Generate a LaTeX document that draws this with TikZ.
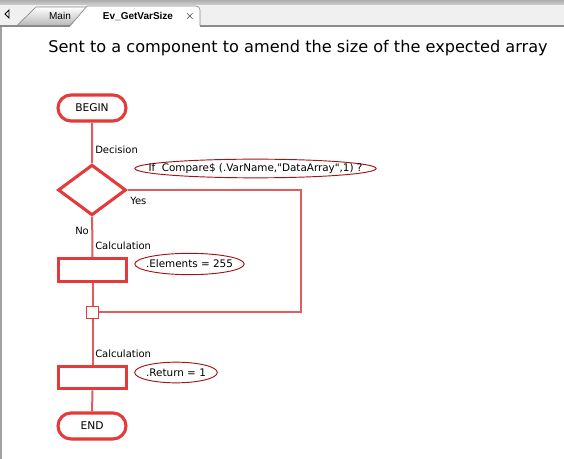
\documentclass[tikz,border=0pt]{standalone}
\usepackage{fontspec}
\setmainfont{DejaVu Sans}
\newfontfamily\uifont{Liberation Sans}
\usetikzlibrary{arrows.meta,positioning,calc,shapes.geometric,shapes.misc}
\definecolor{pen}{HTML}{E43A3A}
\definecolor{wire}{HTML}{E35B5B}
\definecolor{note}{HTML}{A31515}
\definecolor{bar}{HTML}{F0F0F0}
\definecolor{edge}{HTML}{8A8A8A}
\tikzset{
  terminal/.style={draw=pen,line width=2.3pt,rounded rectangle,inner sep=0pt,
    minimum width=51pt,minimum height=19.5pt,font=\fontsize{8}{9}\selectfont},
  calcbox/.style={draw=pen,line width=2.3pt,inner sep=0pt,
    minimum width=51pt,minimum height=17pt},
  decision/.style={draw=pen,line width=2.3pt,diamond,inner sep=0pt,
    minimum width=51pt,minimum height=38pt},
  junction/.style={draw=pen,line width=1.1pt,inner sep=0pt,minimum size=9pt},
  wire/.style={draw=wire,line width=1.5pt},
  note/.style={draw=note,line width=0.7pt,ellipse,inner sep=0pt},
  notetext/.style={inner sep=0pt,font=\fontsize{7.8}{9}\selectfont},
  tag/.style={anchor=west,inner sep=0pt,font=\fontsize{7.5}{9}\selectfont},
  tab/.style={font=\uifont\fontsize{7.5}{9}\selectfont,inner sep=0pt}
}

\begin{document}
\begin{tikzpicture}[x=0.75pt,y=-0.75pt]
  \useasboundingbox (0,0) rectangle (564,459);
  % editor frame
  \fill[white] (0,0) rectangle (564,459);
  \shade[top color=edge!70,bottom color=edge!40] (0,0) rectangle (564,5);
  \fill[bar] (0,5) rectangle (564,25);
  \shade[top color=white,bottom color=edge!60,draw=edge,line width=0.5pt]
    (17,25.5) -- (36,7) -- (88,7) -- (70,25.5) -- cycle;
  \filldraw[fill=white,draw=edge,line width=0.5pt]
    (70,26) -- (87,6) -- (196,6) to[out=0,in=90] (200,10) -- (200,26);
  \fill[edge] (0,25) rectangle (70,27);
  \fill[edge] (200,25) rectangle (564,27);
  \fill[edge!80] (0,27) rectangle (2,459);
  \draw[black,line width=0.6pt] (9,10) -- (5,14) -- (9,18) -- cycle;
  \node[tab] (tabmain) at (60,16) {Main};
  \node[tab,font=\uifont\bfseries\fontsize{7.5}{9}\selectfont] (tabvar) at (138,16) {Ev\_GetVarSize};
  \node[tab,font=\uifont\bfseries\fontsize{9}{9}\selectfont] (tabx) at (190,17) {$\times$};
  % title
  \node[font=\fontsize{12.1}{14}\selectfont,inner sep=0pt] (title) at (298,48)
    {Sent to a component to amend the size of the expected array};

  % flow
  \node[terminal] (begin) at (92,108) {BEGIN};
  \node[decision] (dec) at (92,190) {};
  \node[calcbox] (calcA) at (92.5,270) {};
  \node[junction] (join) at (92.5,312.5) {};
  \node[calcbox] (calcB) at (92.5,377.5) {};
  \node[terminal] (end) at (92,426) {END};
  \coordinate (yesbend) at (301,190);

  \draw[wire] (begin) -- (dec);
  \draw[wire] (dec) -- (calcA);
  \draw[wire] (calcA) -- (join);
  \draw[wire] (join) -- (calcB);
  \draw[wire] (calcB) -- (end);
  \draw[wire] (dec.east) -- (yesbend) |- (join.east);

  % labels
  \node[tag] (tdec) at (95,150) {Decision};
  \node[tag] (tyes) at (130,201) {Yes};
  \node[tag] (tno) at (75,231) {No};
  \node[tag] (tcalcA) at (95,246) {Calculation};
  \node[tag] (tcalcB) at (95,354) {Calculation};

  % notes
  \node[note,minimum width=181pt,minimum height=14pt,
    label={[notetext]center:If\ \ Compare\$ (.VarName,\textquotedbl DataArray\textquotedbl,1) ?}]
    (ncond) at (255.5,168.5) {};
  \node[note,minimum width=82pt,minimum height=16pt,
    label={[notetext]center:.Elements = 255}] (nelem) at (189.5,264) {};
  \node[note,minimum width=62pt,minimum height=15.5pt,
    label={[notetext]center:.Return = 1}] (nret) at (176,372.5) {};
\end{tikzpicture}
\end{document}
